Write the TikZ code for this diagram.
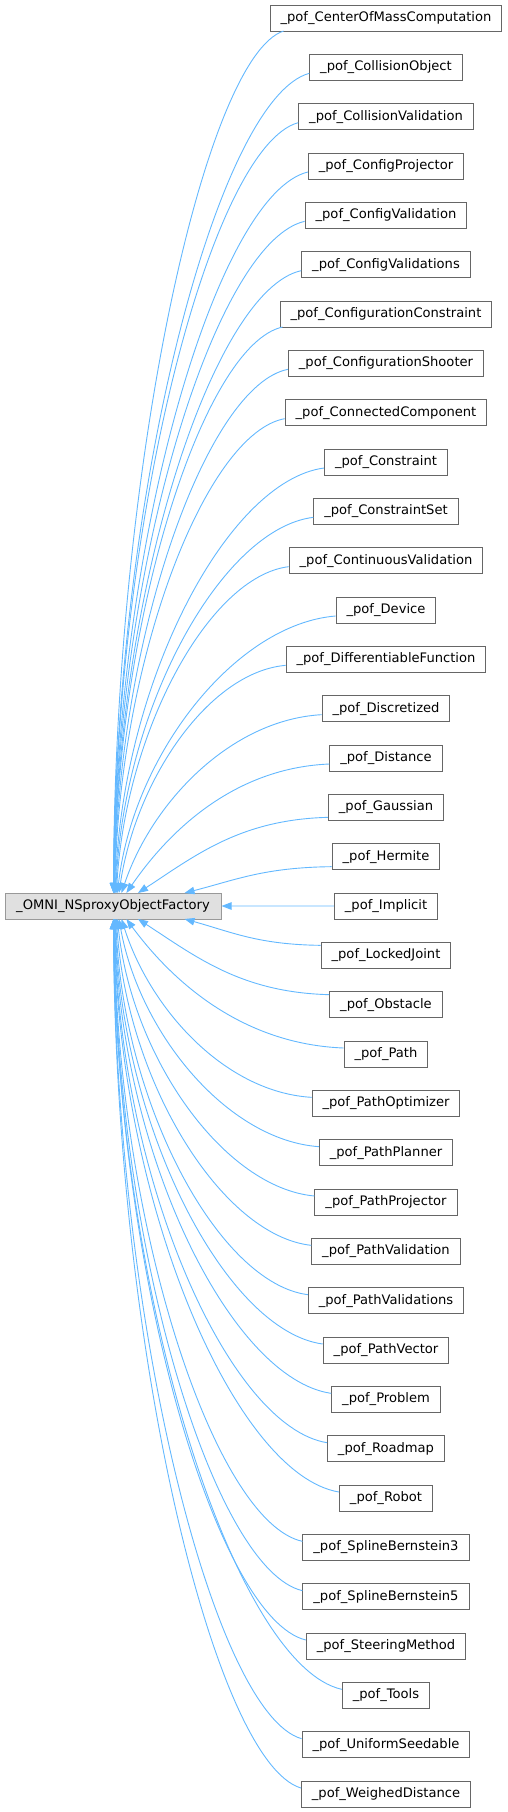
\documentclass[tikz,border=0pt]{standalone}
\usepackage{fontspec}
\setmainfont{DejaVu Sans}
\usetikzlibrary{arrows.meta,calc}
\definecolor{edgeblue}{HTML}{63B8FF}
\definecolor{boxline}{HTML}{666666}
\definecolor{rootline}{HTML}{999999}
\definecolor{rootfill}{HTML}{E0E0E0}
\begin{document}
\begin{tikzpicture}[x=1pt,y=-1pt,
  cls/.style={draw=boxline, fill=white, line width=1pt, minimum height=26pt,
    inner xsep=10.5pt, inner ysep=0pt, font=\fontsize{13.1}{15}\selectfont},
  rootbox/.style={cls, draw=rootline, fill=rootfill, minimum width=216pt},
  edge/.style={draw=edgeblue, line width=0.9pt, -{Triangle[length=10pt,width=7.5pt]}}]
\useasboundingbox (0,0) rectangle (508,1812);
\node[rootbox] (root) at (113,906) {\_OMNI\_NSproxyObjectFactory};
\foreach \nm [count=\i from 0] in {CenterOfMassComputation,CollisionObject,CollisionValidation,ConfigProjector,ConfigValidation,ConfigValidations,ConfigurationConstraint,ConfigurationShooter,ConnectedComponent,Constraint,ConstraintSet,ContinuousValidation,Device,DifferentiableFunction,Discretized,Distance,Gaussian,Hermite,Implicit,LockedJoint,Obstacle,Path,PathOptimizer,PathPlanner,PathProjector,PathValidation,PathValidations,PathVector,Problem,Roadmap,Robot,SplineBernstein3,SplineBernstein5,SteeringMethod,Tools,UniformSeedable,WeighedDistance} {
  \node[cls] (c\i) at (386,{18+49.3333*\i}) {\_pof\_\nm};
}
\draw[edge] (c18) -- (root);
\foreach \i in {0,...,36} {
  \ifnum\i=18\relax\else
  \pgfmathtruncatemacro\n{abs(\i-18)}
  \pgfmathsetmacro\sg{\i<18 ? 1 : -1}
  \pgfmathsetmacro\txo{108+72/(\n^1.5)}
  \pgfmathsetmacro\sh{\n<=2 ? 10 : 6}
  \pgfmathsetmacro\ys{-\sg*\sh}
  \pgfmathsetmacro\yr{13*\sg}
  \pgfmathsetmacro\w{1/(1+0.15*(\n-1)^2)}
  \def\sx{0}%
  \ifnum\i=0 \def\sx{14}\def\ys{-13}\fi
  \ifnum\i=6 \def\sx{3}\def\ys{-13}\fi
  \draw[edge] let \p1=([xshift=\sx pt,yshift=\ys pt]c\i.west), \p2=([xshift=\txo pt,yshift=\yr pt]root.west) in
    (\p1) .. controls ({\x1-0.46*(\x1-\x2)},{\y1-0.03*(\y1-\y2)})
              and ({\x2+\w*0.35*(\x1-\x2)},{\y2+0.5*(\y1-\y2)}) .. (\p2);
  \fi
}
\end{tikzpicture}
\end{document}
